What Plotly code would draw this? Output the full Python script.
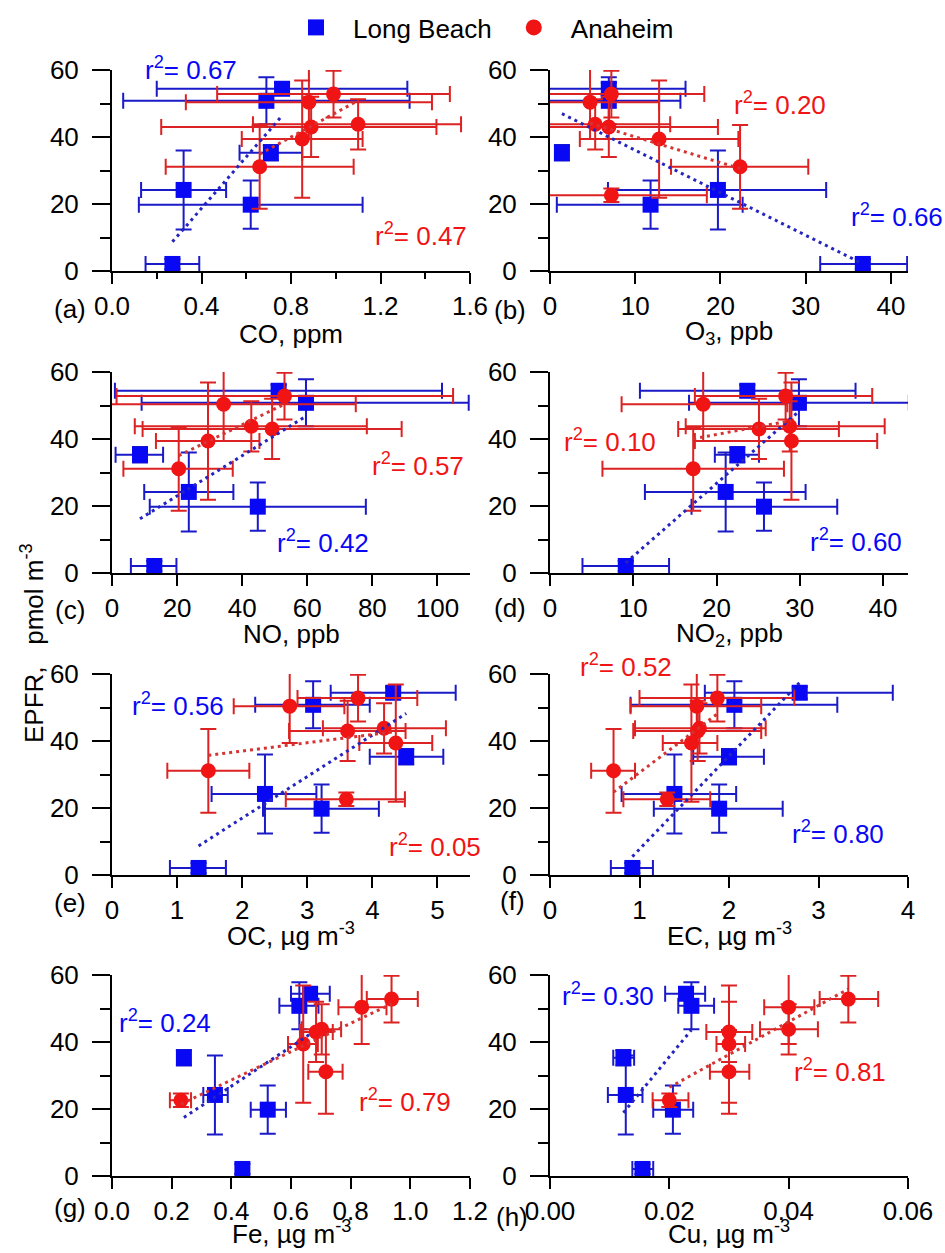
import numpy as np
import plotly.graph_objects as go

W, H = 945, 1253

# EPFR concentrations (pmol m^-3) and their uncertainties at each site
LB_EPFR = [2.1, 24.2, 19.8, 50.8, 54.4, 35.3]
LB_EPFR_ERR = [1.5, 11.8, 7.2, 7.0, 1.8, 2.3]
AN_EPFR = [52.8, 50.4, 43.8, 43.0, 39.4, 31.1, 22.6]
AN_EPFR_ERR = [7.0, 11.0, 7.5, 9.0, 17.5, 12.5, 2.0]

# (a) CO, ppm
CO_LB = [0.27, 0.32, 0.62, 0.69, 0.76, 0.71]
CO_LB_LO = [0.15, 0.13, 0.12, 0.05, 0.20, 0.57]
CO_LB_HI = [0.39, 0.51, 1.12, 1.33, 1.32, 0.85]
CO_AN = [0.99, 0.88, 1.10, 0.89, 0.85, 0.66, None]
CO_AN_LO = [0.47, 0.33, 0.63, 0.22, 0.58, 0.24, None]
CO_AN_HI = [1.51, 1.43, 1.56, 1.45, 1.12, 1.08, None]

# (b) O3, ppb
O3_LB = [36.7, 19.7, 11.8, 6.9, 6.9, 1.4]
O3_LB_LO = [31.7, 6.8, 0.8, -0.4, -0.4, 1.1]
O3_LB_HI = [41.9, 32.4, 22.6, 15.3, 15.9, 1.7]
O3_AN = [7.2, 4.7, 5.3, 6.9, 12.8, 22.3, 7.2]
O3_AN_LO = [-0.4, -0.4, -0.4, -0.4, 3.5, 14.2, -0.4]
O3_AN_HI = [18.1, 12.8, 14.1, 19.7, 22.1, 30.3, 18.4]

# (c) NO, ppb
NO_LB = [13.0, 23.6, 44.8, 59.6, 51.2, 8.6]
NO_LB_LO = [5.8, 9.9, 11.6, 9.1, 0.9, 1.1]
NO_LB_HI = [19.8, 37.3, 78.0, 109.6, 101.4, 15.7]
NO_AN = [53.0, 34.3, 42.8, 49.2, 29.5, 20.5, None]
NO_AN_LO = [1.4, -0.5, 7.0, 9.4, 13.5, 3.5, None]
NO_AN_HI = [104.8, 74.9, 78.3, 89.0, 45.3, 37.1, None]

# (d) NO2, ppb
NO2_LB = [9.1, 21.1, 25.7, 29.9, 23.7, 22.5]
NO2_LB_LO = [3.9, 11.4, 17.0, 16.7, 10.8, 19.8]
NO2_LB_HI = [14.3, 30.7, 34.5, 43.1, 36.7, 25.1]
NO2_AN = [28.3, 18.4, 28.8, 25.1, 29.0, 17.2, None]
NO2_AN_LO = [17.4, 8.6, 16.3, 15.4, 17.4, 6.3, None]
NO2_AN_HI = [38.7, 28.5, 40.2, 34.7, 39.3, 28.1, None]

# (e) OC, ug m^-3
OC_LB = [1.33, 2.35, 3.22, 3.09, 4.32, 4.52]
OC_LB_LO = [0.89, 1.53, 2.32, 2.20, 3.36, 3.96]
OC_LB_HI = [1.75, 3.14, 4.10, 3.96, 5.28, 5.09]
OC_AN = [3.78, 2.73, 4.18, 3.62, 4.36, 1.48, 3.60]
OC_AN_LO = [2.85, 1.87, 3.24, 2.72, 3.80, 0.85, 2.67]
OC_AN_HI = [4.69, 3.57, 5.13, 4.51, 4.92, 2.11, 4.50]

# (f) EC, ug m^-3
EC_LB = [0.92, 1.39, 1.89, 2.06, 2.79, 2.00]
EC_LB_LO = [0.68, 0.80, 1.16, 0.90, 1.73, 1.60]
EC_LB_HI = [1.15, 2.08, 2.60, 3.21, 3.83, 2.39]
EC_AN = [1.87, 1.64, 1.67, 1.65, 1.58, 0.71, 1.31]
EC_AN_LO = [1.00, 0.90, 0.95, 0.93, 1.26, 0.46, 0.82]
EC_AN_HI = [2.73, 2.36, 2.41, 2.36, 1.87, 0.95, 1.79]

# (g) Fe, ug m^-3
FE_LB = [0.437, 0.345, 0.522, 0.628, 0.664, 0.241]
FE_LB_LO = [0.425, 0.306, 0.465, 0.561, 0.600, 0.232]
FE_LB_HI = [0.449, 0.388, 0.583, 0.692, 0.730, 0.250]
FE_AN = [0.937, 0.837, 0.703, 0.684, 0.641, 0.717, 0.231]
FE_AN_LO = [0.854, 0.759, 0.636, 0.630, 0.590, 0.658, 0.194]
FE_AN_HI = [1.025, 0.920, 0.768, 0.740, 0.690, 0.773, 0.265]

# (h) Cu, ug m^-3
CU_LB = [0.0155, 0.0127, 0.0206, 0.0237, 0.0228, 0.0123]
CU_LB_LO = [0.0138, 0.0097, 0.0173, 0.0215, 0.0193, 0.0106]
CU_LB_HI = [0.0173, 0.0155, 0.0240, 0.0275, 0.0260, 0.0141]
CU_AN = [0.050, 0.040, 0.040, 0.030, 0.030, 0.030, 0.020]
CU_AN_LO = [0.0452, 0.0359, 0.0352, 0.0262, 0.0279, 0.0268, 0.0172]
CU_AN_HI = [0.0550, 0.0443, 0.0449, 0.0339, 0.0327, 0.0334, 0.0232]

# r^2 labels per panel: (Long Beach, Anaheim)
R2_LB = ["0.67", "0.66", "0.42", "0.60", "0.56", "0.80", "0.24", "0.30"]
R2_AN = ["0.47", "0.20", "0.57", "0.10", "0.05", "0.52", "0.79", "0.81"]

PANEL_TAGS = ["(a)", "(b)", "(c)", "(d)", "(e)", "(f)", "(g)", "(h)"]
X_TITLES = ["CO, ppm", "O<sub>3</sub>, ppb", "NO, ppb", "NO<sub>2</sub>, ppb",
            "OC, µg m<sup>-3</sup>", "EC, µg m<sup>-3</sup>",
            "Fe, µg m<sup>-3</sup>", "Cu, µg m<sup>-3</sup>"]

SERIES = [
    (CO_LB, CO_LB_LO, CO_LB_HI, CO_AN, CO_AN_LO, CO_AN_HI),
    (O3_LB, O3_LB_LO, O3_LB_HI, O3_AN, O3_AN_LO, O3_AN_HI),
    (NO_LB, NO_LB_LO, NO_LB_HI, NO_AN, NO_AN_LO, NO_AN_HI),
    (NO2_LB, NO2_LB_LO, NO2_LB_HI, NO2_AN, NO2_AN_LO, NO2_AN_HI),
    (OC_LB, OC_LB_LO, OC_LB_HI, OC_AN, OC_AN_LO, OC_AN_HI),
    (EC_LB, EC_LB_LO, EC_LB_HI, EC_AN, EC_AN_LO, EC_AN_HI),
    (FE_LB, FE_LB_LO, FE_LB_HI, FE_AN, FE_AN_LO, FE_AN_HI),
    (CU_LB, CU_LB_LO, CU_LB_HI, CU_AN, CU_AN_LO, CU_AN_HI),
]

# x-axis setup per panel: range, major step, minor step, tick format
X_AXES = [
    dict(range=[0, 1.6], dtick=0.4, minor=0.2, fmt=".1f"),
    dict(range=[0, 42], dtick=10, minor=None, fmt="d"),
    dict(range=[0, 110], dtick=20, minor=None, fmt="d"),
    dict(range=[0, 43], dtick=10, minor=None, fmt="d"),
    dict(range=[0, 5.5], dtick=1, minor=None, fmt="d"),
    dict(range=[0, 4], dtick=1, minor=None, fmt="d"),
    dict(range=[0, 1.2], dtick=0.2, minor=None, fmt=".1f"),
    dict(range=[0, 0.06], dtick=0.02, minor=None, fmt=".2f"),
]

# pixel frame of each plotting area
COL_X = [(112, 470), (550, 908)]
ROW_Y = [(70, 271), (372, 573), (674, 875), (975, 1176)]

# distance (px) below each x axis for its title and its panel tag
TITLE_DROP = [63, 61, 61, 61, 59, 59, 56, 56]
TAG_DROP = [38, 39, 37, 35, 28, 26, 32, 41]
TAG_X = [70, 510, 70, 510, 70, 512, 70, 512]

# r^2 label anchor points (left edge, vertical centre) in pixels
R2_LB_POS = [(143, 68), (849, 216), (275, 541), (808, 540),
             (130, 704), (790, 832), (117, 1021), (560, 995)]
R2_AN_POS = [(373, 234), (732, 104), (370, 465), (562, 440),
             (387, 845), (578, 666), (357, 1100), (792, 1070)]

BLUE = "#0808F5"
BLUE_ERR = "#1A1AC8"
BLUE_FIT = "#2424C0"
RED = "#F01414"
RED_ERR = "#DC2222"
RED_FIT = "#D43434"
FONT = "Liberation Sans, Arial, sans-serif"


def fx(px):
    return px / W


def fy(py):
    return 1 - py / H


fig = go.Figure()
annotations = []
layout_axes = {}

for i in range(8):
    col = i % 2
    row = i // 2
    x0, x1 = COL_X[col]
    ytop, ybot = ROW_Y[row]
    n = "" if i == 0 else str(i + 1)
    xa, ya = "x" + n, "y" + n
    ax = X_AXES[i]

    xaxis = dict(
        domain=[fx(x0), fx(x1)], anchor=ya, range=ax["range"], automargin=False,
        tick0=0, dtick=ax["dtick"], tickformat=ax["fmt"],
        showline=True, linecolor="black", linewidth=2,
        ticks="outside", ticklen=11, tickwidth=2, tickcolor="black",
        showgrid=False, zeroline=False,
        tickfont=dict(family=FONT, size=26, color="black"),
    )
    if ax["minor"]:
        xaxis["minor"] = dict(tick0=0, dtick=ax["minor"], ticks="outside",
                              ticklen=6, tickwidth=2, tickcolor="black",
                              showgrid=False)
    yaxis = dict(
        domain=[fy(ybot), fy(ytop)], anchor=xa, range=[0, 60], automargin=False,
        tick0=0, dtick=20,
        showline=True, linecolor="black", linewidth=2,
        ticks="outside", ticklen=18, tickwidth=2, tickcolor="black",
        ticklabelstandoff=8,
        minor=dict(tick0=0, dtick=10, ticks="outside", ticklen=10,
                   tickwidth=2, tickcolor="black", showgrid=False),
        showgrid=False, zeroline=False,
        tickfont=dict(family=FONT, size=26, color="black"),
    )
    layout_axes["xaxis" + n] = xaxis
    layout_axes["yaxis" + n] = yaxis

    lb_x, lb_lo, lb_hi, an_x, an_lo, an_hi = SERIES[i]

    # Long Beach points
    lbx = np.array(lb_x, float)
    lby = np.array(LB_EPFR, float)
    fig.add_trace(go.Scatter(
        x=lbx, y=lby, mode="markers", xaxis=xa, yaxis=ya,
        marker=dict(symbol="square", size=16, color=BLUE),
        error_x=dict(type="data", symmetric=False,
                     array=np.array(lb_hi) - lbx, arrayminus=lbx - np.array(lb_lo),
                     color=BLUE_ERR, thickness=2, width=8),
        error_y=dict(type="data", array=LB_EPFR_ERR,
                     color=BLUE_ERR, thickness=2, width=8),
        cliponaxis=False, showlegend=False, hoverinfo="skip",
    ))

    # Anaheim points (skip missing measurements)
    keep = [k for k, v in enumerate(an_x) if v is not None]
    anx = np.array([an_x[k] for k in keep], float)
    any_ = np.array([AN_EPFR[k] for k in keep], float)
    alo = np.array([an_lo[k] for k in keep], float)
    ahi = np.array([an_hi[k] for k in keep], float)
    aey = [AN_EPFR_ERR[k] for k in keep]
    fig.add_trace(go.Scatter(
        x=anx, y=any_, mode="markers", xaxis=xa, yaxis=ya,
        marker=dict(symbol="circle", size=15, color=RED),
        error_x=dict(type="data", symmetric=False,
                     array=ahi - anx, arrayminus=anx - alo,
                     color=RED_ERR, thickness=2, width=8),
        error_y=dict(type="data", array=aey,
                     color=RED_ERR, thickness=2, width=8),
        cliponaxis=False, showlegend=False, hoverinfo="skip",
    ))

    # least-squares fit lines over each site's data span
    for xs, ys, c in ((lbx, lby, BLUE_FIT), (anx, any_, RED_FIT)):
        slope, icpt = np.polyfit(xs, ys, 1)
        xl = np.array([xs.min(), xs.max()])
        fig.add_trace(go.Scatter(
            x=xl, y=slope * xl + icpt, mode="lines", xaxis=xa, yaxis=ya,
            line=dict(color=c, width=3, dash="3px,4px"),
            showlegend=False, hoverinfo="skip",
        ))

    # r^2 labels
    for txt, pos, c in ((R2_LB[i], R2_LB_POS[i], BLUE), (R2_AN[i], R2_AN_POS[i], RED)):
        annotations.append(dict(
            x=fx(pos[0]), y=fy(pos[1]), xref="paper", yref="paper",
            xanchor="left", yanchor="middle", showarrow=False,
            text="r<sup>2</sup>= " + txt,
            font=dict(family=FONT, size=26, color=c),
        ))

    # x-axis title
    annotations.append(dict(
        x=fx((x0 + x1) / 2), y=fy(ybot + TITLE_DROP[i]), xref="paper", yref="paper",
        xanchor="center", yanchor="middle", showarrow=False,
        text=X_TITLES[i], font=dict(family=FONT, size=26, color="black"),
    ))
    # panel tag
    annotations.append(dict(
        x=fx(TAG_X[i]), y=fy(ybot + TAG_DROP[i]), xref="paper", yref="paper",
        xanchor="center", yanchor="middle", showarrow=False,
        text=PANEL_TAGS[i], font=dict(family=FONT, size=26, color="black"),
    ))

# shared y title
NB = "\u00a0"
annotations.append(dict(
    x=fx(32), y=fy(643), xref="paper", yref="paper",
    xanchor="center", yanchor="middle", showarrow=False, textangle=-90,
    text="EPFR," + NB * 3 + "pmol m<sup>-3</sup>",
    font=dict(family=FONT, size=26, color="black"),
))

# legend entries
fig.add_trace(go.Scatter(x=[None], y=[None], mode="markers", name="Long Beach",
                         marker=dict(symbol="square", size=18, color=BLUE)))
fig.add_trace(go.Scatter(x=[None], y=[None], mode="markers", name="Anaheim",
                         marker=dict(symbol="circle", size=18, color=RED)))

fig.update_layout(
    width=W, height=H, margin=dict(l=0, r=0, t=0, b=0, autoexpand=False),
    paper_bgcolor="white", plot_bgcolor="white",
    annotations=annotations,
    legend=dict(orientation="h", x=fx(279), y=fy(4), xanchor="left", yanchor="top",
                font=dict(family=FONT, size=26, color="black"),
                bgcolor="rgba(0,0,0,0)", itemwidth=64),
    **layout_axes,
)

fig.write_html("out.html", post_script="document.body.style.margin='0px';")
